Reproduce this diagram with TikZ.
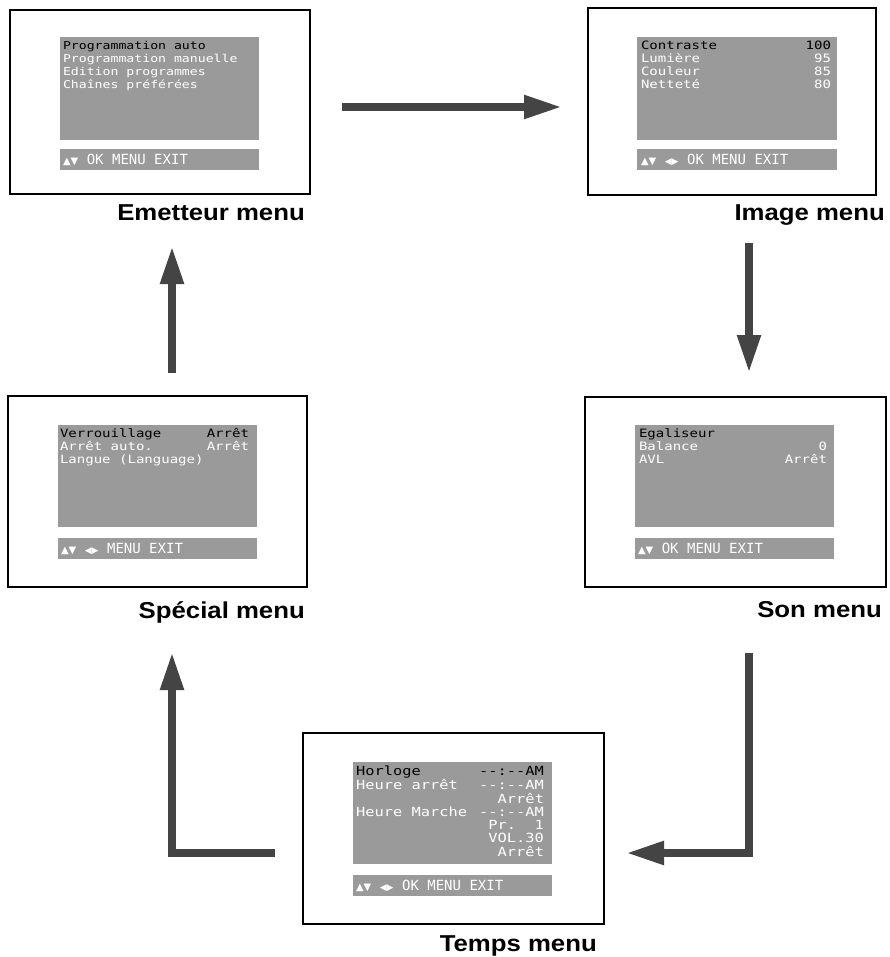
\documentclass[tikz,border=0pt]{standalone}
\usepackage{fontspec}
\usetikzlibrary{arrows.meta,fit}
\newfontfamily\osdfont[FakeStretch=1.22]{DejaVu Sans Mono}
\newfontfamily\barfont{DejaVu Sans Mono}
\newfontfamily\symfont{DejaVu Sans}
\newfontfamily\capfont[FakeStretch=1.12]{Liberation Sans}
\definecolor{osdgray}{HTML}{9A9A9A}
\definecolor{flowgray}{HTML}{444444}
\newcommand{\hi}[1]{\textcolor{black}{#1}}
\newcommand{\keys}[1]{{\symfont\fontsize{10}{10}\selectfont #1}}
\newcommand{\arrowkeys}[1]{{\symfont\fontsize{9}{9}\selectfont #1}}

\tikzset{
  screen/.style={draw=black, line width=1.6pt, inner sep=0pt},
  panel/.style={fill=osdgray, inner sep=0pt},
  osd/.style={font=\osdfont\fontsize{11.5}{12.9}\selectfont, text=white, inner sep=0pt, anchor=base west},
  osdbar/.style={font=\barfont\fontsize{14}{14}\selectfont, text=white, inner sep=0pt, anchor=base west},
  caption/.style={font=\capfont\bfseries\fontsize{23}{23}\selectfont, inner sep=0pt, anchor=base east},
  flow/.style={draw=flowgray, line width=8pt, line join=miter, -{Triangle[length=38pt,width=22pt]}}
}

\begin{document}
\begin{tikzpicture}[x=1pt,y=-1pt]
  \path[fill=white, use as bounding box] (0,0) rectangle (889,957);

  % screens
  \node[screen, fit={(10,10) (310,194)}] (emet) {};
  \node[screen, fit={(588,8) (876,195)}] (image) {};
  \node[screen, fit={(8,396) (307,587)}] (spec) {};
  \node[screen, fit={(585,397) (886,587)}] (son) {};
  \node[screen, fit={(303,733) (604,924)}] (temps) {};

  % menu panels and key bars
  \node[panel, fit={(60,37) (259,140)}] (emetP) {};
  \node[panel, fit={(60,149) (259,170)}] (emetB) {};
  \node[panel, fit={(637,37) (837,140)}] (imageP) {};
  \node[panel, fit={(637,149) (837,170)}] (imageB) {};
  \node[panel, fit={(58,425) (257,527)}] (specP) {};
  \node[panel, fit={(58,538) (257,559)}] (specB) {};
  \node[panel, fit={(635,425) (834,527)}] (sonP) {};
  \node[panel, fit={(635,538) (834,559)}] (sonB) {};
  \node[panel, fit={(353,762) (552,864)}] (tempsP) {};
  \node[panel, fit={(353,875) (552,896)}] (tempsB) {};

  % menu texts
  \node[osd, font=\osdfont\fontsize{10.8}{12.9}\selectfont] (emetT) at ([shift={(3,13)}]emetP.north west)
    {\begin{tabular}[t]{@{}l@{}}
      \hi{Programmation auto}\\
      Programmation manuelle\\
      Edition programmes\\
      Chaînes préférées
    \end{tabular}};
  \node[osd] (imageT) at ([shift={(4,13)}]imageP.north west)
    {\begin{tabular*}{190pt}[t]{@{}l@{\extracolsep{\fill}}r@{}}
      \hi{Contraste} & \hi{100}\\
      Lumière & 95\\
      Couleur & 85\\
      Netteté & 80
    \end{tabular*}};
  \node[osd] (specT) at ([shift={(2,13)}]specP.north west)
    {\begin{tabular*}{189pt}[t]{@{}l@{\extracolsep{\fill}}l@{}}
      \hi{Verrouillage} & \hi{Arrêt}\\
      Arrêt auto. & Arrêt\\
      Langue (Language) &
    \end{tabular*}};
  \node[osd] (sonT) at ([shift={(4,13)}]sonP.north west)
    {\begin{tabular*}{188pt}[t]{@{}l@{\extracolsep{\fill}}r@{}}
      \hi{Egaliseur} & \\
      Balance & 0\\
      AVL & Arrêt
    \end{tabular*}};
  \node[osd, font=\osdfont\fontsize{12.6}{12.7}\selectfont] (tempsT) at ([shift={(3,13.5)}]tempsP.north west)
    {\begin{tabular*}{188pt}[t]{@{}l@{\extracolsep{\fill}}r@{}}
      \hi{Horloge} & \hi{-{}-:-{}-AM}\\
      Heure arrêt & -{}-:-{}-AM\\
       & Arrêt\\
      Heure Marche & -{}-:-{}-AM\\
       & Pr.\ \ 1\\
       & VOL.30\\
       & Arrêt
    \end{tabular*}};

  % key bars
  \node[osdbar] (emetK) at ([shift={(3,15.5)}]emetB.north west) {\keys{▲▼} OK MENU EXIT};
  \node[osdbar] (imageK) at ([shift={(4,15.5)}]imageB.north west) {\keys{▲▼} \arrowkeys{◀▶} OK MENU EXIT};
  \node[osdbar] (specK) at ([shift={(3,15.5)}]specB.north west) {\keys{▲▼} \arrowkeys{◀▶} MENU EXIT};
  \node[osdbar] (sonK) at ([shift={(3,15.5)}]sonB.north west) {\keys{▲▼} OK MENU EXIT};
  \node[osdbar] (tempsK) at ([shift={(3,15.5)}]tempsB.north west) {\keys{▲▼} \arrowkeys{◀▶} OK MENU EXIT};

  % captions
  \node[caption] (emetL) at (305,221) {Emetteur menu};
  \node[caption] (imageL) at (885,221) {Image menu};
  \node[caption] (specL) at (305,618) {Spécial menu};
  \node[caption] (sonL) at (882,617) {Son menu};
  \node[caption] (tempsL) at (597,951) {Temps menu};

  % flow arrows
  \coordinate (f1a) at (342,107);
  \coordinate (f1b) at (562,107);
  \coordinate (f2a) at (749,243);
  \coordinate (f2b) at (749,373);
  \coordinate (f3a) at (749,653);
  \coordinate (f3c) at (749,853);
  \coordinate (f3b) at (626,853);
  \coordinate (f4a) at (275,853);
  \coordinate (f4c) at (172,853);
  \coordinate (f4b) at (172,652);
  \coordinate (f5a) at (172,373);
  \coordinate (f5b) at (172,246);
  \draw[flow] (f1a) -- (f1b);
  \draw[flow] (f2a) -- (f2b);
  \draw[flow] (f3a) -- (f3c) -- (f3b);
  \draw[flow] (f4a) -- (f4c) -- (f4b);
  \draw[flow] (f5a) -- (f5b);
\end{tikzpicture}
\end{document}
